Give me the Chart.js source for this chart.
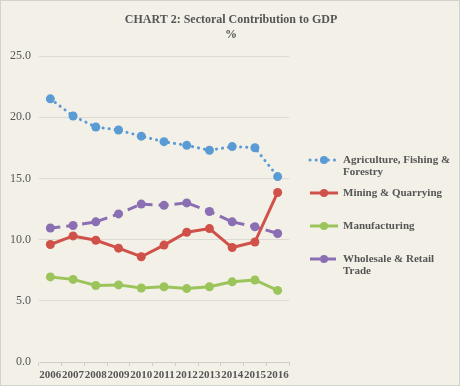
<!DOCTYPE html>
<html>
<head>
<meta charset="utf-8">
<script src="https://cdn.jsdelivr.net/npm/chart.js@4"></script>
<style>
  body { margin: 0; background: #ffffff; }
  #wrap { width: 460px; height: 386px; }
</style>
</head>
<body>
<div id="wrap"><canvas id="myChart" width="460" height="386"></canvas></div>
<script>
var years = ['2006', '2007', '2008', '2009', '2010', '2011', '2012', '2013', '2014', '2015', '2016'];
var agriculture = [21.5, 20.1, 19.2, 18.95, 18.45, 18.0, 17.7, 17.3, 17.6, 17.5, 15.15];
var mining = [9.6, 10.3, 9.95, 9.3, 8.6, 9.55, 10.6, 10.9, 9.35, 9.8, 13.85];
var manufacturing = [6.95, 6.75, 6.25, 6.3, 6.05, 6.15, 6.0, 6.15, 6.55, 6.7, 5.85];
var wholesale = [10.95, 11.15, 11.45, 12.1, 12.9, 12.8, 13.0, 12.3, 11.45, 11.05, 10.5];
var yTicks = [0, 5, 10, 15, 20, 25];
var seriesNames = [['Agriculture, Fishing &', 'Forestry'], ['Mining & Quarrying'], ['Manufacturing'], ['Wholesale & Retail', 'Trade']];

var textColor = '#555555';
var serif = '"Liberation Serif", "DejaVu Serif", serif';

// background + frame
var bgPlugin = {
    id: 'bg',
    beforeDraw: function (chart) {
        var c = chart.ctx;
        c.save();
        c.fillStyle = '#f2f0e7';
        c.fillRect(0, 0, chart.width, chart.height);
        c.strokeStyle = '#d4d2cc';
        c.lineWidth = 1;
        c.strokeRect(0.5, 0.5, chart.width - 1, chart.height - 1);
        c.restore();
    }
};

// legend on the right, with wrapped labels
var legendPlugin = {
    id: 'sideLegend',
    afterDraw: function (chart) {
        var c = chart.ctx;
        var x0 = chart.chartArea.right + 21;
        var rows = [160, 193, 226, 259];
        c.save();
        chart.data.datasets.forEach(function (ds, i) {
            var y = rows[i];
            c.strokeStyle = ds.borderColor;
            c.lineWidth = 3;
            c.lineCap = ds.borderCapStyle || 'butt';
            c.setLineDash(ds.borderDash || []);
            c.beginPath();
            c.moveTo(x0, y);
            c.lineTo(x0 + 28, y);
            c.stroke();
            c.setLineDash([]);
            c.fillStyle = ds.borderColor;
            c.beginPath();
            c.arc(x0 + 14, y, 4, 0, Math.PI * 2);
            c.fill();
            c.fillStyle = textColor;
            c.font = 'bold 11px ' + serif;
            c.textBaseline = 'middle';
            seriesNames[i].forEach(function (line, j) {
                c.fillText(line, x0 + 33, y + j * 12);
            });
        });
        c.restore();
    }
};

var ctx = document.getElementById('myChart').getContext('2d');
var chart = new Chart(ctx, {
    type: 'line',
    data: {
        labels: years,
        datasets: [{
            label: 'Agriculture, Fishing & Forestry',
            data: agriculture,
            borderColor: '#5b9bd5',
            backgroundColor: '#5b9bd5',
            borderWidth: 3,
            borderDash: [0.1, 6],
            borderCapStyle: 'round'
        }, {
            label: 'Mining & Quarrying',
            data: mining,
            borderColor: '#d0504a',
            backgroundColor: '#d0504a',
            borderWidth: 3
        }, {
            label: 'Manufacturing',
            data: manufacturing,
            borderColor: '#9bc45a',
            backgroundColor: '#9bc45a',
            borderWidth: 3
        }, {
            label: 'Wholesale & Retail Trade',
            data: wholesale,
            borderColor: '#8a6fb3',
            backgroundColor: '#8a6fb3',
            borderWidth: 3,
            borderDash: [10, 6]
        }]
    },
    options: {
        responsive: false,
        animation: false,
        layout: { padding: { left: 2, top: 6, bottom: 1, right: 0 } },
        datasets: {
            line: { pointRadius: 4.5, pointHoverRadius: 4.5, pointBorderWidth: 0, tension: 0 }
        },
        plugins: {
            legend: { display: false },
            tooltip: { enabled: false },
            title: {
                display: true,
                text: ['CHART 2: Sectoral Contribution to GDP', '%'],
                color: textColor,
                font: { family: serif, size: 12, weight: 'bold', lineHeight: 1.25 },
                padding: { top: 6, bottom: 14 }
            }
        },
        scales: {
            x: {
                offset: true,
                border: { color: '#d0cec8' },
                grid: { drawOnChartArea: false, offset: true, tickLength: 4, color: '#d0cec8' },
                ticks: {
                    autoSkip: false, maxRotation: 0, padding: 4,
                    color: textColor,
                    font: { family: serif, size: 11, weight: 'bold', lineHeight: 1.0 }
                }
            },
            y: {
                min: 0,
                max: 25,
                afterBuildTicks: function (axis) {
                    axis.ticks = yTicks.map(function (v) { return { value: v }; });
                },
                border: { display: false },
                grid: { color: '#dcdad2', drawTicks: false },
                ticks: {
                    padding: 8,
                    color: textColor,
                    font: { family: serif, size: 12 },
                    callback: function (v) { return v.toFixed(1); }
                }
            },
            side: {
                position: 'right',
                display: true,
                grid: { display: false },
                border: { display: false },
                ticks: { display: false },
                afterFit: function (axis) { axis.width = 171; }
            }
        }
    },
    plugins: [bgPlugin, legendPlugin]
});
</script>
</body>
</html>
